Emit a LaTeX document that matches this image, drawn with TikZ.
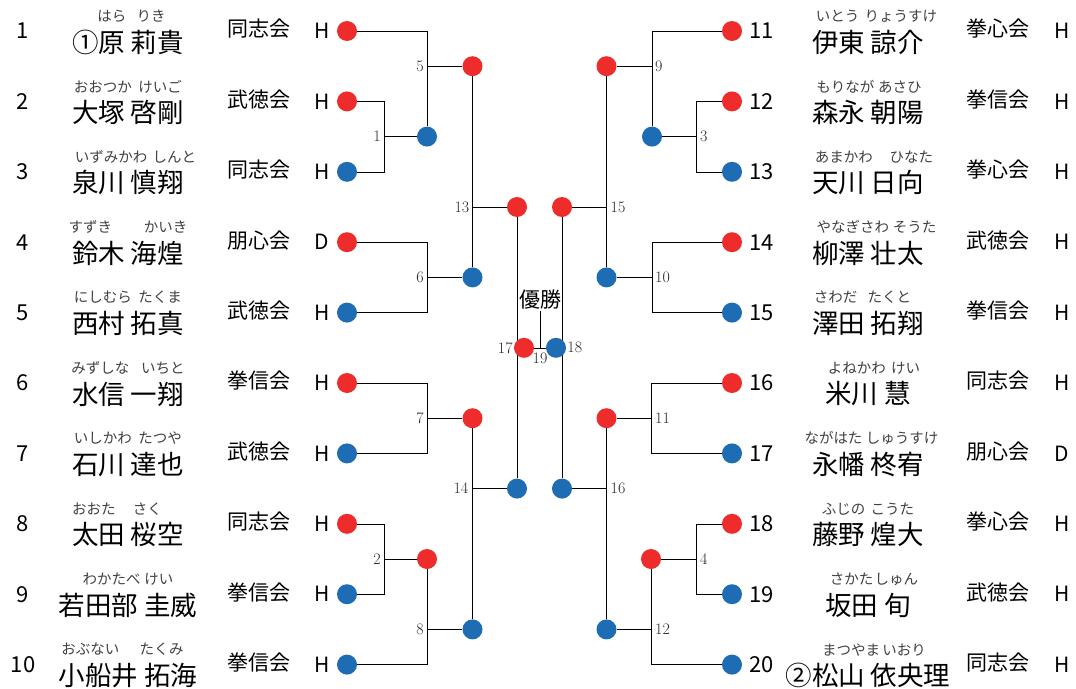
\documentclass[tikz,border=0pt]{standalone}
\usepackage{fontspec}
\usepackage{xcolor}
\usetikzlibrary{positioning,backgrounds}

\newfontfamily\jp{Noto Sans CJK JP}
\newcommand{\kgap}[1]{\hspace{#1em}}
\definecolor{akared}{RGB}{238,44,44}
\definecolor{aoblue}{RGB}{30,108,180}

\tikzset{
  reddot/.style={circle, fill=akared, minimum size=20pt, inner sep=0pt},
  bluedot/.style={circle, fill=aoblue, minimum size=20pt, inner sep=0pt},
  seed/.style={font=\jp\fontsize{22}{24}\selectfont, inner sep=0pt},
  kana/.style={font=\jp\fontsize{14.5}{16}\selectfont, text=black!75, inner sep=0pt},
  fullname/.style={font=\jp\fontsize{26.5}{30}\selectfont, inner sep=0pt},
  club/.style={font=\jp\fontsize{21}{24}\selectfont, inner sep=0pt},
  grade/.style={font=\jp\fontsize{21}{24}\selectfont, inner sep=0pt},
  boutno/.style={font=\fontsize{16}{18}\selectfont, text=black!85, inner sep=0pt},
  bracket/.style={line width=1.3pt}
}

\begin{document}
\begin{tikzpicture}[x=1pt, y=-1pt]
        \useasboundingbox (0,0) rectangle (1076,688);

        % Left block: numbers, readings, names, clubs, grades
        \node[seed] (no1) at (22.5,31) {1};
        \node[kana] (k1) at (131.5,16) {はら\kgap{0.7}りき};
        \node[fullname] (nm1) at (128,42) {①原 莉貴};
        \node[club] (c1) at (259,29) {同志会};
        \node[grade] (g1) at (322,31) {H};

        \node[seed] (no2) at (22.5,101.4) {2};
        \node[kana] (k2) at (128,86.4) {おおつか\kgap{0.45}けいご};
        \node[fullname] (nm2) at (128,112.4) {大塚 啓剛};
        \node[club] (c2) at (259,99.4) {武徳会};
        \node[grade] (g2) at (322,101.4) {H};

        \node[seed] (no3) at (22.5,171.8) {3};
        \node[kana] (k3) at (135.5,156.8) {いずみかわ\kgap{0.35}しんと};
        \node[fullname] (nm3) at (128,182.8) {泉川 慎翔};
        \node[club] (c3) at (259,169.8) {同志会};
        \node[grade] (g3) at (322,171.8) {H};

        \node[seed] (no4) at (22.5,242.2) {4};
        \node[kana] (k4) at (128,227.2) {すずき\kgap{2.2}かいき};
        \node[fullname] (nm4) at (128,253.2) {鈴木 海煌};
        \node[club] (c4) at (259,240.2) {朋心会};
        \node[grade] (g4) at (322,242.2) {D};

        \node[seed] (no5) at (22.5,312.6) {5};
        \node[kana] (k5) at (128,297.6) {にしむら\kgap{0.45}たくま};
        \node[fullname] (nm5) at (128,323.6) {西村 拓真};
        \node[club] (c5) at (259,310.6) {武徳会};
        \node[grade] (g5) at (322,312.6) {H};

        \node[seed] (no6) at (22.5,383) {6};
        \node[kana] (k6) at (128,368) {みずしな\kgap{0.8}いちと};
        \node[fullname] (nm6) at (128,394) {水信 一翔};
        \node[club] (c6) at (259,381) {拳信会};
        \node[grade] (g6) at (322,383) {H};

        \node[seed] (no7) at (22.5,453.4) {7};
        \node[kana] (k7) at (128,438.4) {いしかわ\kgap{0.45}たつや};
        \node[fullname] (nm7) at (128,464.4) {石川 達也};
        \node[club] (c7) at (259,451.4) {武徳会};
        \node[grade] (g7) at (322,453.4) {H};

        \node[seed] (no8) at (22.5,523.8) {8};
        \node[kana] (k8) at (117,508.8) {おおた\kgap{1.2}さく};
        \node[fullname] (nm8) at (128,534.8) {太田 桜空};
        \node[club] (c8) at (259,521.8) {同志会};
        \node[grade] (g8) at (322,523.8) {H};

        \node[seed] (no9) at (22.5,594.2) {9};
        \node[kana] (k9) at (128,579.2) {わかたべ\kgap{0.25}けい};
        \node[fullname] (nm9) at (128,605.2) {若田部 圭威};
        \node[club] (c9) at (259,592.2) {拳信会};
        \node[grade] (g9) at (322,594.2) {H};

        \node[seed] (no10) at (23,664.6) {10};
        \node[kana] (k10) at (122.5,649.6) {おぶない\kgap{1.4}たくみ};
        \node[fullname] (nm10) at (128,675.6) {小船井 拓海};
        \node[club] (c10) at (259,662.6) {拳信会};
        \node[grade] (g10) at (322,664.6) {H};

        % Right block
        \node[seed, anchor=west] (no11) at (749,31) {11};
        \node[kana] (k11) at (876.5,16) {いとう\kgap{0.35}りょうすけ};
        \node[fullname] (nm11) at (868,42) {伊東 諒介};
        \node[club] (c11) at (998,29) {拳心会};
        \node[grade] (g11) at (1062,31) {H};

        \node[seed, anchor=west] (no12) at (749,101.4) {12};
        \node[kana] (k12) at (869,86.4) {もりなが\kgap{0.25}あさひ};
        \node[fullname] (nm12) at (868,112.4) {森永 朝陽};
        \node[club] (c12) at (998,99.4) {拳信会};
        \node[grade] (g12) at (1062,101.4) {H};

        \node[seed, anchor=west] (no13) at (749,171.8) {13};
        \node[kana] (k13) at (874,156.8) {あまかわ\kgap{1.15}ひなた};
        \node[fullname] (nm13) at (868,182.8) {天川 日向};
        \node[club] (c13) at (998,169.8) {拳心会};
        \node[grade] (g13) at (1062,171.8) {H};

        \node[seed, anchor=west] (no14) at (749,242.2) {14};
        \node[kana] (k14) at (876.5,227.2) {やなぎさわ\kgap{0.25}そうた};
        \node[fullname] (nm14) at (868,253.2) {柳澤 壮太};
        \node[club] (c14) at (998,240.2) {武徳会};
        \node[grade] (g14) at (1062,242.2) {H};

        \node[seed, anchor=west] (no15) at (749,312.6) {15};
        \node[kana] (k15) at (862.5,297.6) {さわだ\kgap{0.7}たくと};
        \node[fullname] (nm15) at (868,323.6) {澤田 拓翔};
        \node[club] (c15) at (998,310.6) {拳信会};
        \node[grade] (g15) at (1062,312.6) {H};

        \node[seed, anchor=west] (no16) at (749,383) {16};
        \node[kana] (k16) at (874,368) {よねかわ\kgap{0.35}けい};
        \node[fullname] (nm16) at (868,394) {米川 慧};
        \node[club] (c16) at (998,381) {同志会};
        \node[grade] (g16) at (1062,383) {H};

        \node[seed, anchor=west] (no17) at (749,453.4) {17};
        \node[kana] (k17) at (871.5,438.4) {ながはた\kgap{0.25}しゅうすけ};
        \node[fullname] (nm17) at (868,464.4) {永幡 柊宥};
        \node[club] (c17) at (998,451.4) {朋心会};
        \node[grade] (g17) at (1062,453.4) {D};

        \node[seed, anchor=west] (no18) at (749,523.8) {18};
        \node[kana] (k18) at (868,508.8) {ふじの\kgap{0.35}こうた};
        \node[fullname] (nm18) at (868,534.8) {藤野 煌大};
        \node[club] (c18) at (998,521.8) {拳心会};
        \node[grade] (g18) at (1062,523.8) {H};

        \node[seed, anchor=west] (no19) at (749,594.2) {19};
        \node[kana] (k19) at (874,579.2) {さかた\kgap{0.1}しゅん};
        \node[fullname] (nm19) at (868,605.2) {坂田 旬};
        \node[club] (c19) at (998,592.2) {武徳会};
        \node[grade] (g19) at (1062,594.2) {H};

        \node[seed, anchor=west] (no20) at (749,664.6) {20};
        \node[kana] (k20) at (874,649.6) {まつやま\kgap{0.15}いおり};
        \node[fullname] (nm20) at (868,675.6) {②松山 依央理};
        \node[club] (c20) at (998,662.6) {同志会};
        \node[grade] (g20) at (1062,664.6) {H};

        % Player dots
        \node[reddot] (p1) at (347,31) {};
        \node[reddot] (p2) at (347,101.4) {};
        \node[bluedot] (p3) at (347,171.8) {};
        \node[reddot] (p4) at (347,242.2) {};
        \node[bluedot] (p5) at (347,312.6) {};
        \node[reddot] (p6) at (347,383) {};
        \node[bluedot] (p7) at (347,453.4) {};
        \node[reddot] (p8) at (347,523.8) {};
        \node[bluedot] (p9) at (347,594.2) {};
        \node[bluedot] (p10) at (347,664.6) {};
        \node[reddot] (p11) at (732,31) {};
        \node[reddot] (p12) at (732,101.4) {};
        \node[bluedot] (p13) at (732,171.8) {};
        \node[reddot] (p14) at (732,242.2) {};
        \node[bluedot] (p15) at (732,312.6) {};
        \node[reddot] (p16) at (732,383) {};
        \node[bluedot] (p17) at (732,453.4) {};
        \node[reddot] (p18) at (732,523.8) {};
        \node[bluedot] (p19) at (732,594.2) {};
        \node[bluedot] (p20) at (732,664.6) {};

        % Bout dots
        \node[bluedot] (m1) at (427,136.6) {};
        \node[reddot] (m2) at (427,559) {};
        \node[bluedot] (m3) at (652,136.6) {};
        \node[reddot] (m4) at (651,559) {};
        \node[reddot] (m5) at (472.5,66.2) {};
        \node[bluedot] (m6) at (472.5,277.4) {};
        \node[reddot] (m7) at (472.5,418.2) {};
        \node[bluedot] (m8) at (472.5,629.4) {};
        \node[reddot] (m9) at (606.5,66.2) {};
        \node[bluedot] (m10) at (606.5,277.4) {};
        \node[reddot] (m11) at (606.5,418.2) {};
        \node[bluedot] (m12) at (606.5,629.4) {};
        \node[reddot] (m13) at (517,207) {};
        \node[bluedot] (m14) at (517,488.6) {};
        \node[reddot] (m15) at (562,207) {};
        \node[bluedot] (m16) at (562,488.6) {};
        \node[reddot] (m17) at (524,347.8) {};
        \node[bluedot] (m18) at (556,347.8) {};
        \node[font=\jp\fontsize{21}{24}\selectfont, inner sep=1pt] (champ) at (540,300) {優勝};

        % Junctions
        \coordinate (j1) at (384,136.6);
        \coordinate (j2) at (384,559);
        \coordinate (j3) at (696,136.6);
        \coordinate (j4) at (696,559);
        \coordinate (j5) at (427,66.2);
        \coordinate (j6) at (427,277.4);
        \coordinate (j7) at (427,418.2);
        \coordinate (j8) at (427,629.4);
        \coordinate (j9) at (652,66.2);
        \coordinate (j10) at (652,277.4);
        \coordinate (j11) at (651,418.2);
        \coordinate (j12) at (651,629.4);
        \coordinate (j13) at (472.5,207);
        \coordinate (j14) at (472.5,488.6);
        \coordinate (j15) at (606.5,207);
        \coordinate (j16) at (606.5,488.6);
        \coordinate (j19) at (540,347.8);

        % Bout numbers
        \node[boutno, left=3pt of j1] (b1) {1};
        \node[boutno, left=3pt of j2] (b2) {2};
        \node[boutno, right=4pt of j3] (b3) {3};
        \node[boutno, right=4pt of j4] (b4) {4};
        \node[boutno, left=3pt of j5] (b5) {5};
        \node[boutno, left=3pt of j6] (b6) {6};
        \node[boutno, left=3pt of j7] (b7) {7};
        \node[boutno, left=3pt of j8] (b8) {8};
        \node[boutno, right=3pt of j9] (b9) {9};
        \node[boutno, right=3pt of j10] (b10) {10};
        \node[boutno, right=4pt of j11] (b11) {11};
        \node[boutno, right=4pt of j12] (b12) {12};
        \node[boutno, left=3pt of j13] (b13) {13};
        \node[boutno, left=4pt of j14] (b14) {14};
        \node[boutno, right=4pt of j15] (b15) {15};
        \node[boutno, right=4pt of j16] (b16) {16};
        \node[boutno, left=1pt of m17] (b17) {17};
        \node[boutno, right=1pt of m18] (b18) {18};
        \node[boutno, below=5pt of j19] (b19) {19};

        % Brackets
        \begin{scope}[on background layer, bracket]
        \draw (p2) -| (j1) -- (m1);
        \draw (p3) -| (j1);
        \draw (p1) -| (m1);
        \draw (j5) -- (m5);
        \draw (p4) -| (j6) -- (m6);
        \draw (p5) -| (j6);
        \draw (p6) -| (j7) -- (m7);
        \draw (p7) -| (j7);
        \draw (p8) -| (j2) -- (m2);
        \draw (p9) -| (j2);
        \draw (p10) -| (m2);
        \draw (j8) -- (m8);
        \draw (m5) -- (m6);
        \draw (j13) -- (m13);
        \draw (m7) -- (m8);
        \draw (j14) -- (m14);
        \draw (p12) -| (j3) -- (m3);
        \draw (p13) -| (j3);
        \draw (p11) -| (m3);
        \draw (j9) -- (m9);
        \draw (p14) -| (j10) -- (m10);
        \draw (p15) -| (j10);
        \draw (p16) -| (j11) -- (m11);
        \draw (p17) -| (j11);
        \draw (p18) -| (j4) -- (m4);
        \draw (p19) -| (j4);
        \draw (p20) -| (m4);
        \draw (j12) -- (m12);
        \draw (m9) -- (m10);
        \draw (j15) -- (m15);
        \draw (m11) -- (m12);
        \draw (j16) -- (m16);
        \draw (m13) -- (m14);
        \draw (m15) -- (m16);
        \draw (m17) -- (m18);
        \draw (j19) -- (champ);
        \end{scope}

    \end{tikzpicture}
\end{document}
